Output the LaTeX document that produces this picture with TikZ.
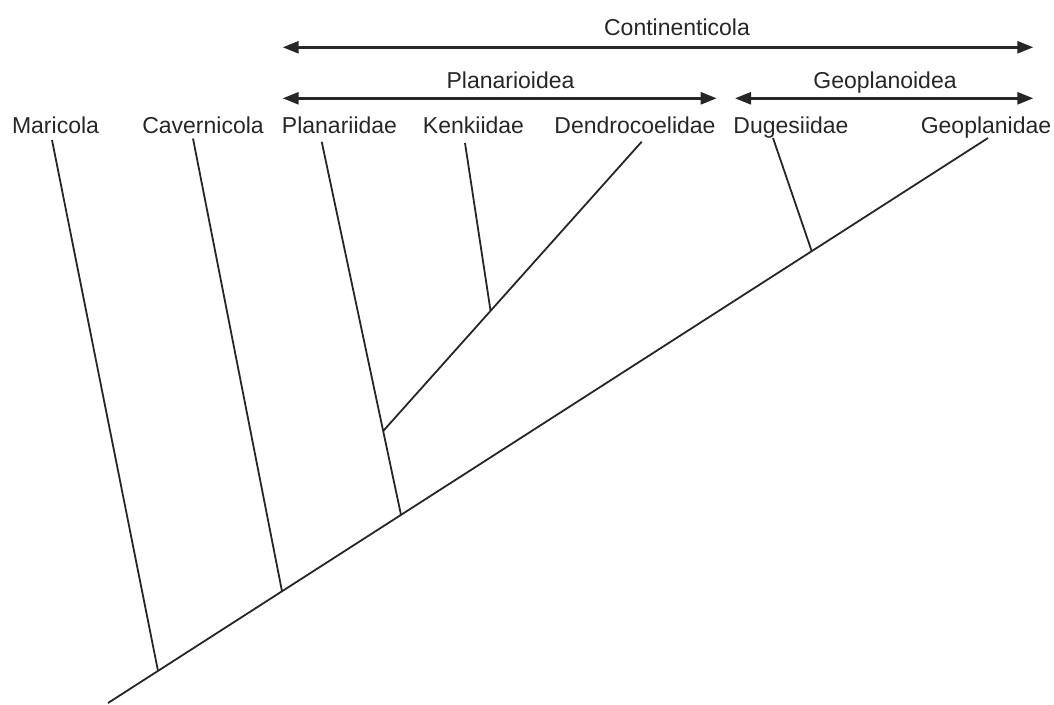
\documentclass[tikz,border=0pt]{standalone}
\usepackage{fontspec}
\setmainfont{Liberation Sans}
\usetikzlibrary{arrows.meta}
\definecolor{ink}{HTML}{262626}
\tikzset{
  taxon/.style={anchor=base, inner sep=0pt, text=ink, font=\fontsize{23}{27}\selectfont},
  branch/.style={draw=ink, line width=1.8pt},
  span/.style={draw=ink, line width=2.7pt, {Triangle[length=16pt,width=12pt]}-{Triangle[length=16pt,width=12pt]}}
}
\begin{document}
\begin{tikzpicture}[x=1pt,y=-1pt]
\useasboundingbox (0,0) rectangle (1054,704);
% group labels
\node[taxon] (cont) at (677,35) {Continenticola};
\node[taxon] (plan) at (510.5,88.3) {Planarioidea};
\node[taxon] (geop) at (885,88.3) {Geoplanoidea};
\coordinate (contL) at (282.7,47.3);
\coordinate (contR) at (1033.3,47.3);
\coordinate (planL) at (282.7,98.3);
\coordinate (planR) at (716.7,98.3);
\coordinate (geopL) at (735,98.3);
\coordinate (geopR) at (1033.3,98.3);
\draw[span] (contL) -- (contR);
\draw[span] (planL) -- (planR);
\draw[span] (geopL) -- (geopR);
% taxa labels
\node[taxon] (mar) at (55.5,133) {Maricola};
\node[taxon] (cav) at (203,133) {Cavernicola};
\node[taxon] (pla) at (339.5,133) {Planariidae};
\node[taxon] (ken) at (473.5,133) {Kenkiidae};
\node[taxon] (den) at (635,133) {Dendrocoelidae};
\node[taxon] (dug) at (791,133) {Dugesiidae};
\node[taxon] (geo) at (986,133) {Geoplanidae};
% branch tips
\coordinate (tMar) at (52,140);
\coordinate (tCav) at (193,138.5);
\coordinate (tPla) at (321.7,141.7);
\coordinate (tKen) at (465,143);
\coordinate (tDen) at (641.7,141.7);
\coordinate (tDug) at (773,138);
\coordinate (tGeo) at (988,138);
% root and junctions
\coordinate (root) at (108,703);
\coordinate (jMar) at (158,670.9);
\coordinate (jCav) at (282,591.3);
\coordinate (jPla) at (401,514.9);
\coordinate (jDen) at (383.2,431);
\coordinate (jKen) at (490.5,310.5);
\coordinate (jDug) at (811.7,251.2);
% tree
\draw[branch] (root) -- (tGeo);
\draw[branch] (tMar) -- (jMar);
\draw[branch] (tCav) -- (jCav);
\draw[branch] (tPla) -- (jPla);
\draw[branch] (tDen) -- (jDen);
\draw[branch] (tKen) -- (jKen);
\draw[branch] (tDug) -- (jDug);
\end{tikzpicture}
\end{document}
